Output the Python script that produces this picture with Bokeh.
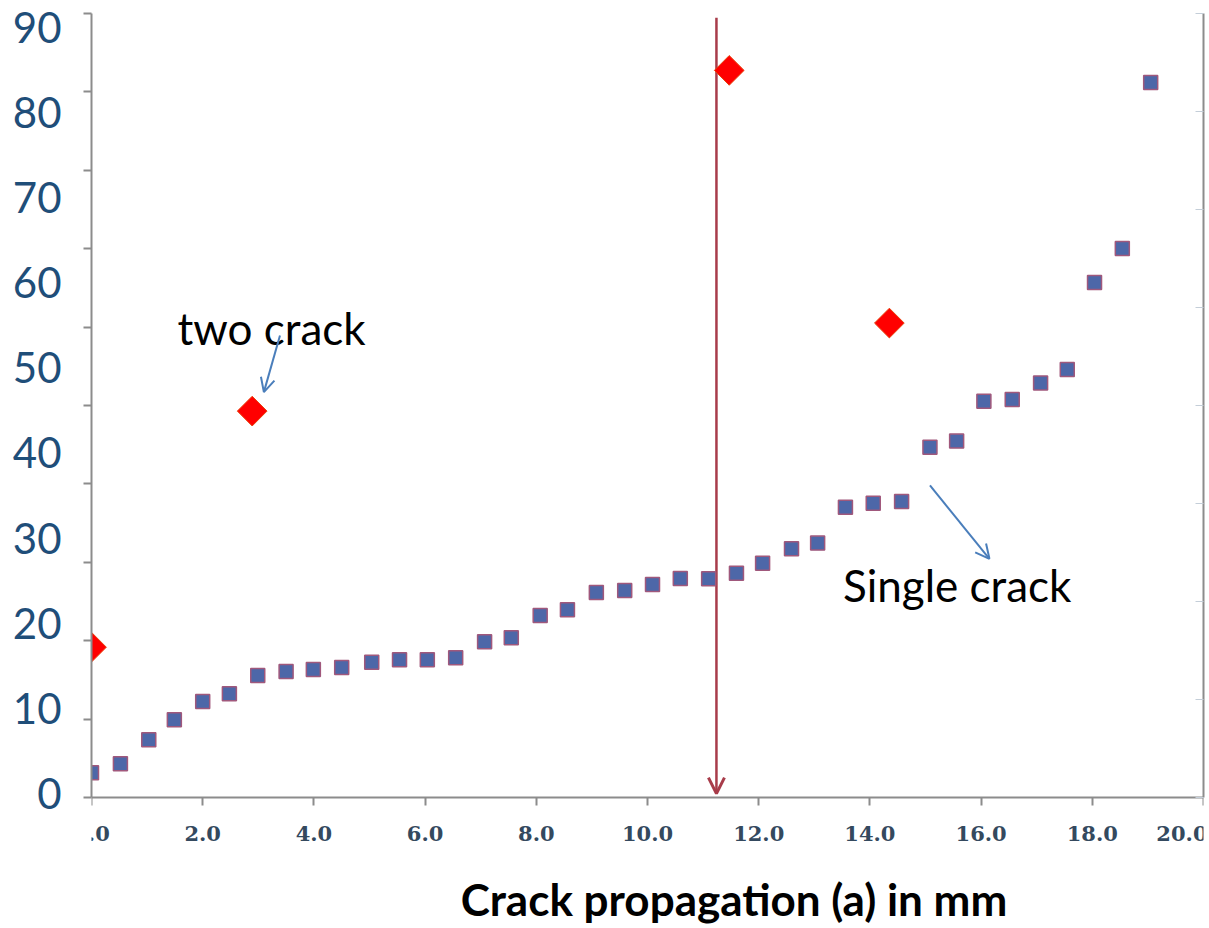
import math
from bokeh.plotting import figure
from bokeh.models import (FixedTicker, LinearAxis, Range1d, Arrow, OpenHead, Label,
                          NumeralTickFormatter, CustomJSTickFormatter)
from bokeh.core.properties import value
from bokeh.embed import file_html
from bokeh.resources import INLINE

# ---------------- data ----------------
single_x = [0.00, 0.52, 1.03, 1.49, 2.00, 2.48, 2.99, 3.50, 3.99, 4.50,
            5.04, 5.54, 6.04, 6.55, 7.07, 7.55, 8.07, 8.56, 9.08, 9.59,
            10.09, 10.59, 11.10, 11.60, 12.07, 12.59, 13.06, 13.56, 14.06, 14.57,
            15.08, 15.56, 16.05, 16.56, 17.07, 17.55, 18.04, 18.54, 19.05]
single_y = [2.44, 3.50, 6.32, 8.67, 10.82, 11.72, 13.87, 14.34, 14.57, 14.81,
            15.43, 15.71, 15.71, 15.95, 17.83, 18.30, 20.92, 21.59, 23.62, 23.85,
            24.56, 25.26, 25.23, 25.88, 27.06, 28.75, 29.41, 33.63, 34.10, 34.30,
            40.68, 41.39, 46.08, 46.28, 48.20, 49.81, 60.02, 64.02, 83.51]

two_x = [0.00, 2.89, 11.47, 14.35]
two_y = [17.19, 44.91, 84.92, 55.25]

x_ticks = [0, 2, 4, 6, 8, 10, 12, 14, 16, 18, 20]
y_ticks = [0, 10, 20, 30, 40, 50, 60, 70, 80, 90]
x_title = "Crack propagation (a) in mm"
label_two = "two crack"
label_single = "Single crack"

# annotation anchors (data units)
TWO_TXT = (3.24, 54.62)
TWO_ARROW = (3.39, 53.8, 3.10, 47.14)
SINGLE_TXT = (15.57, 24.44)
SINGLE_ARROW = (15.08, 36.18, 16.15, 27.57)
SPLIT_ARROW = (11.24, 91.1, 11.24, 0.0)
TITLE_POS = (6.64, -12.38)   # left edge / baseline of the x-axis title

# ---------------- figure ----------------
W, H = 1207, 926
TOP, LEFT, RIGHT = 13, 91, 4
AXIS_PX = 784                      # plot-area height in pixels (axis line to top)
Y0, Y1 = -0.46, 91.6               # value span of the plotted area
px_per_unit = AXIS_PX / (Y1 - Y0)
Y_MIN = Y0 - (H - TOP - AXIS_PX) / px_per_unit   # extra room below for axis text

AXIS_GRAY = "#8c8c8c"

p = figure(width=W, height=H, x_range=Range1d(0, 20), y_range=Range1d(Y_MIN, Y1),
           x_axis_type=None, y_axis_type=None,
           output_backend="svg", toolbar_location=None,
           min_border_left=LEFT, min_border_right=RIGHT, min_border_top=TOP,
           min_border_bottom=0)
p.outline_line_color = None
p.background_fill_color = "white"
p.border_fill_color = "white"

# left axis: labels 0..90, small outward tick marks every tenth of the plot height
minor_left = [Y0 + k * (Y1 - Y0) / 10 for k in range(11)]
yax = LinearAxis(ticker=FixedTicker(ticks=y_ticks, minor_ticks=minor_left),
                 bounds=(Y0, Y1),
                 axis_line_color=AXIS_GRAY, axis_line_width=2,
                 major_tick_line_color=None, major_tick_out=8, major_tick_in=0,
                 minor_tick_line_color=AXIS_GRAY, minor_tick_line_width=2,
                 minor_tick_out=8, minor_tick_in=0,
                 major_label_text_font="Lato", major_label_text_font_size="42px",
                 major_label_text_color="#1f4e79", major_label_standoff=22)
p.add_layout(yax, "left")

# right axis: plain line with inward ticks
right_ticks = [Y0 + k * (Y1 - Y0) / 8 for k in range(9)]
rax = LinearAxis(ticker=FixedTicker(ticks=right_ticks), bounds=(Y0, Y1),
                 formatter=CustomJSTickFormatter(code="return ''"),
                 axis_line_color=AXIS_GRAY, axis_line_width=2,
                 major_tick_line_color="#c4ced8", major_tick_line_width=1,
                 major_tick_in=8, major_tick_out=0,
                 major_label_text_font_size="1px", major_label_standoff=0)
p.add_layout(rax, "right")

# bottom axis, drawn at the bottom of the plotted area
xax = LinearAxis(ticker=FixedTicker(ticks=x_ticks), fixed_location=Y0,
                 formatter=NumeralTickFormatter(format="0.0"),
                 axis_line_color=AXIS_GRAY, axis_line_width=2,
                 major_tick_line_color=AXIS_GRAY, major_tick_line_width=2,
                 major_tick_out=8, major_tick_in=0,
                 major_label_text_font="DejaVu Serif", major_label_text_font_style="bold",
                 major_label_text_font_size="21px", major_label_text_color="#34495e",
                 major_label_standoff=20)
p.add_layout(xax, "below")

# x-axis title, offset to the right as in the reference
p.add_layout(Label(x=TITLE_POS[0], y=TITLE_POS[1], text=x_title,
                   text_font="Lato", text_font_size="44px", text_font_style="bold",
                   text_color="black", text_align="left", text_baseline="alphabetic"))

# red split arrow (behind the markers)
p.add_layout(Arrow(end=OpenHead(size=16, line_color="#a83c4a", line_width=3),
                   x_start=SPLIT_ARROW[0], y_start=SPLIT_ARROW[1],
                   x_end=SPLIT_ARROW[2], y_end=SPLIT_ARROW[3],
                   line_color="#a83c4a", line_width=2.5, level="underlay"))

# series
p.scatter(single_x, single_y, marker="square", size=14,
          fill_color="#4d67a8", line_color="#a0587c", line_width=1.5)
p.scatter(two_x, two_y, marker="square", angle=math.pi / 4, size=21,
          fill_color="#ff0000", line_color="#e8400c", line_width=1)

# annotations
BLUE = "#4a7ebb"
p.add_layout(Arrow(end=OpenHead(size=14, line_color=BLUE, line_width=2),
                   x_start=TWO_ARROW[0], y_start=TWO_ARROW[1],
                   x_end=TWO_ARROW[2], y_end=TWO_ARROW[3],
                   line_color=BLUE, line_width=2))
p.add_layout(Arrow(end=OpenHead(size=14, line_color=BLUE, line_width=2),
                   x_start=SINGLE_ARROW[0], y_start=SINGLE_ARROW[1],
                   x_end=SINGLE_ARROW[2], y_end=SINGLE_ARROW[3],
                   line_color=BLUE, line_width=2))

p.text(x=[TWO_TXT[0]], y=[TWO_TXT[1]], text=[label_two],
       text_font=value("Lato"), text_font_size=value("44px"),
       text_align="center", text_baseline="alphabetic", text_color="black")
p.text(x=[SINGLE_TXT[0]], y=[SINGLE_TXT[1]], text=[label_single],
       text_font=value("Lato"), text_font_size=value("44px"),
       text_align="center", text_baseline="alphabetic", text_color="black")

open("out.html", "w").write(file_html(p, INLINE))
